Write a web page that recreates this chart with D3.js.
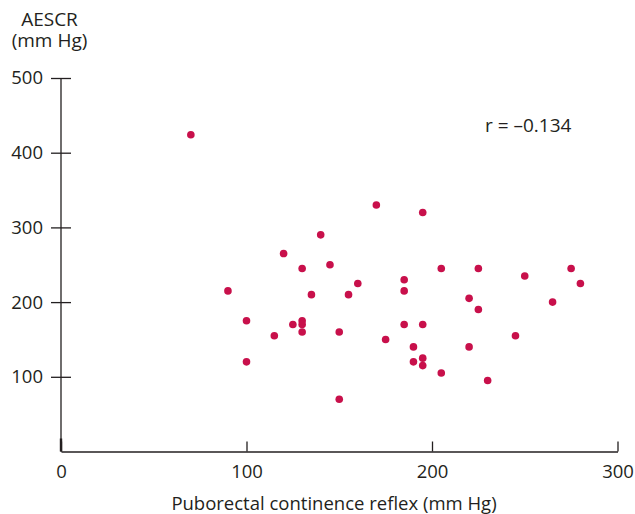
<!DOCTYPE html>
<html>
<head>
<meta charset="utf-8">
<script src="https://cdn.jsdelivr.net/npm/d3@7"></script>
<style>
  html, body { margin: 0; padding: 0; background: #fff; }
  svg text { font-family: "Open Sans", "Noto Sans", sans-serif; fill: #231f20; }
</style>
</head>
<body>
<svg id="chart" width="635" height="514"></svg>
<script>
// Puborectal continence reflex (mm Hg) for each subject
const reflex = [70, 120, 140, 90, 100, 100, 115, 125, 130, 130, 130, 130, 135,
  170, 195, 145, 160, 155, 185, 185, 205, 225, 250, 275, 280, 220, 265, 225,
  150, 175, 185, 195, 190, 190, 195, 195, 205, 220, 230, 245, 150];
// AESCR (mm Hg) for the same subjects
const aescr = [424, 265, 290, 215, 175, 120, 155, 170, 245, 175, 170, 160, 210,
  330, 320, 250, 225, 210, 230, 215, 245, 245, 235, 245, 225, 205, 200, 190,
  160, 150, 170, 170, 140, 120, 125, 115, 105, 140, 95, 155, 70];
const xTicks = [0, 100, 200, 300];
const yTicks = [100, 200, 300, 400, 500];
const rLabel = "r = \u20130.134";
const xTitle = "Puborectal continence reflex (mm Hg)";
const yTitle = ["AESCR", "(mm Hg)"];

const svg = d3.select("#chart");
const ink = "#231f20";
const dotColor = "#c8104b";

const x = d3.scaleLinear().domain([0, 300]).range([61, 617.5]);
const y = d3.scaleLinear().domain([0, 500]).range([451.5, 78]);

// x axis: baseline with ticks pointing up into the plot
const gx = svg.append("g").attr("transform", `translate(0,${y(0)})`)
  .call(d3.axisBottom(x).tickValues(xTicks).tickSizeInner(-10).tickSizeOuter(0).tickPadding(0));
gx.select(".domain").attr("stroke", ink).attr("stroke-width", 1.3);
gx.selectAll(".tick line").attr("stroke", ink).attr("stroke-width", 1.3);
gx.selectAll(".tick text").attr("y", 26).attr("dy", null)
  .attr("font-size", 18.5).attr("fill", ink);

// y axis: vertical line with ticks crossing it
const gy = svg.append("g").attr("transform", `translate(${x(0)},0)`)
  .call(d3.axisLeft(y).tickValues(yTicks).tickSize(10).tickSizeOuter(0).tickPadding(8));
gy.select(".domain").attr("stroke", ink).attr("stroke-width", 1.3)
  .attr("d", `M0,${y(500)}V${y(0)}`);
gy.selectAll(".tick line").attr("stroke", ink).attr("stroke-width", 1.3)
  .attr("x1", -10).attr("x2", 10);
gy.selectAll(".tick text").attr("x", -18).attr("font-size", 18.5).attr("fill", ink);
// heavier stub at the foot of the y axis
gy.append("line").attr("x1", 0).attr("x2", 0).attr("y1", y(0) - 13).attr("y2", y(0))
  .attr("stroke", ink).attr("stroke-width", 2.4);

svg.selectAll("g").attr("font-family", null);

// y-axis title on two lines
svg.append("text").attr("text-anchor", "middle").attr("font-size", 19)
  .selectAll("tspan").data(yTitle).join("tspan")
  .attr("x", 49.5)
  .attr("y", (d, i) => 26 + i * 21)
  .text(d => d);

// x-axis title
svg.append("text").attr("x", 334).attr("y", 510).attr("text-anchor", "middle")
  .attr("font-size", 18.5).text(xTitle);

// correlation coefficient
svg.append("text").attr("x", 485).attr("y", 131.5)
  .attr("font-size", 19).text(rLabel);

// data points
svg.append("g").selectAll("circle")
  .data(d3.zip(reflex, aescr))
  .join("circle")
  .attr("cx", d => x(d[0]))
  .attr("cy", d => y(d[1]))
  .attr("r", 3.8)
  .attr("fill", dotColor);
</script>
</body>
</html>
